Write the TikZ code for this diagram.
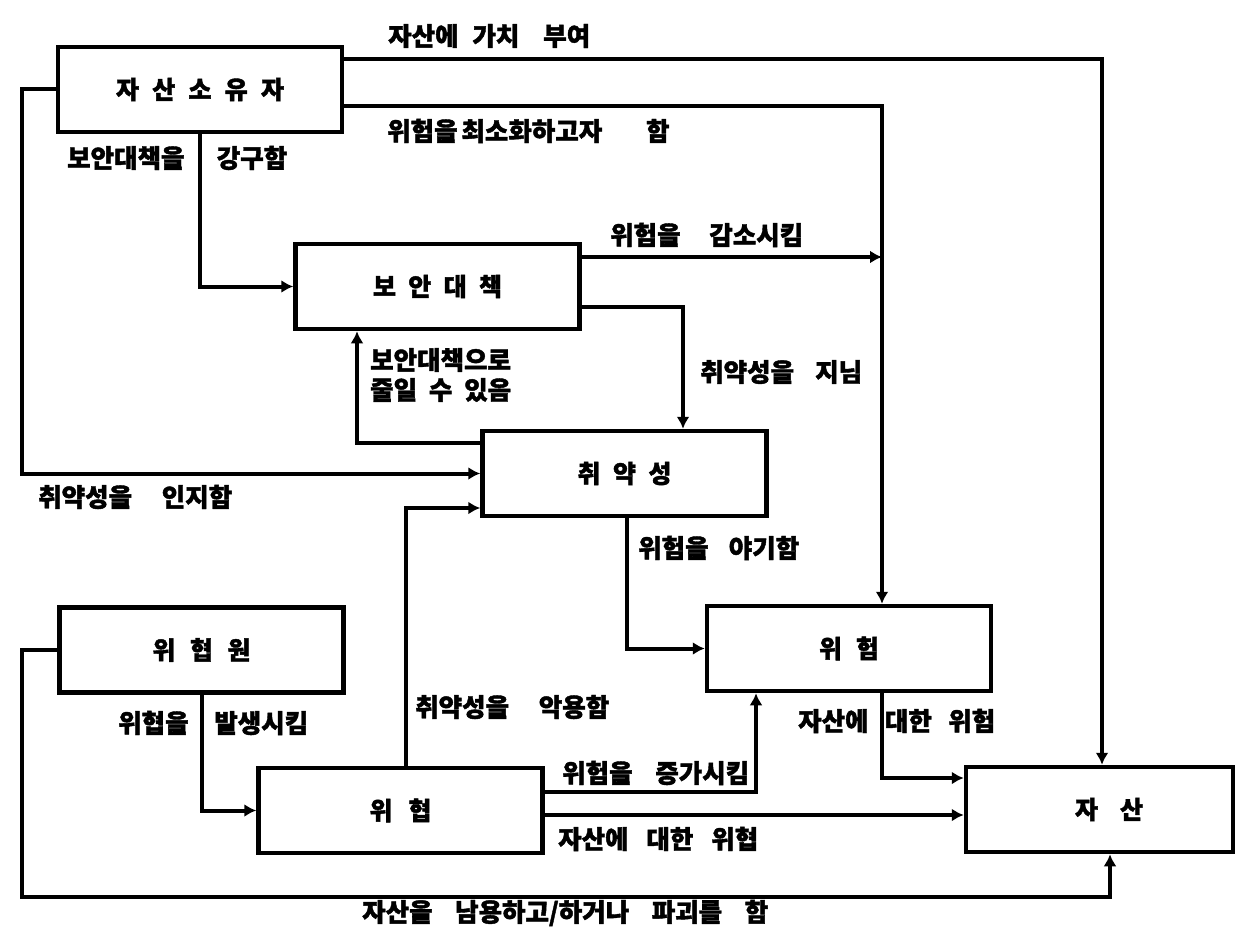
\documentclass[tikz,border=0pt]{standalone}
\usepackage{fontspec}
\usetikzlibrary{arrows.meta}
\newfontfamily\krf{Noto Sans CJK KR}[FakeBold=1.6]
\newcommand\sq[2]{\makebox[#1pt][s]{#2}}
\begin{document}
\begin{tikzpicture}[x=1pt,y=-1pt,
  box/.style={draw, line width=4.5pt, minimum width=284pt, minimum height=85pt, inner sep=0pt,
    font=\krf\bfseries\fontsize{25}{27}\selectfont},
  lab/.style={anchor=west, inner sep=0pt, font=\krf\bfseries\fontsize{25.5}{27}\selectfont},
  conn/.style={line width=4pt, -{Latex[length=12pt,width=13pt]}}]
\useasboundingbox (0,0) rectangle (1236,928);
\fill[white] (0,0) rectangle (1236,928);

% boxes
\node[box] (own)   at (200,89.5)   {\sq{168}{자 산 소 유 자}};
\node[box] (cm)    at (437.5,286.5) {\sq{129}{보 안 대 책}};
\node[box] (vul)   at (624.5,473.5) {\sq{94}{취 약 성}};
\node[box] (risk)  at (849,648.5)  {\sq{60}{위 험}};
\node[box] (ta)    at (201.5,650)  {\sq{98}{위 협 원}};
\node[box] (thr)   at (400.5,810.5) {\sq{62}{위 협}};
\node[box, minimum width=267pt] (asset) at (1099.5,809.5) {\hspace{19pt}\sq{68}{자 산}};

\coordinate (jr) at (882,257);

% connectors
\draw[conn] (own.east |- 0,59) -| (asset.north -| 1102,0);
\draw[conn] (own.east |- 0,106) -| (risk.north -| 882,0);
\draw[conn] (own.south) |- (cm.west);
\draw[conn] (own.west) -- (own.west -| 22,0) |- (vul.west);
\draw[conn] (cm.east |- jr) -- (jr);
\draw[conn] (cm.east |- 0,307) -| (vul.north -| 683,0);
\draw[conn] (vul.west |- 0,443) -| (cm.south -| 357,0);
\draw[conn] (vul.south -| 627,0) |- (risk.west);
\draw[conn] (ta.south) |- (thr.west);
\draw[conn] (thr.north -| 406,0) |- (vul.west |- 0,508);
\draw[conn] (thr.east |- 0,792) -| (risk.south -| 756,0);
\draw[conn] (thr.east |- 0,815) -- (asset.west |- 0,815);
\draw[conn] (risk.south -| 882,0) |- (asset.west |- 0,778);
\draw[conn] (ta.west) -- (ta.west -| 22,0) -- (22,897) -| (asset.south -| 1110,0);

% labels
\node[lab] (l1)  at (388,36)  {\sq{202}{자산에 가치\hspace{10pt} 부여}};
\node[lab] (l2)  at (387,131) {\sq{281}{위험을 최소화하고자\hspace{40pt} 함}};
\node[lab] (l3)  at (67,158)  {\sq{220}{보안대책을 강구함}};
\node[lab] (l4)  at (610,235) {\sq{193}{위험을 감소시킴}};
\node[lab] (l5)  at (700,372) {\sq{162}{취약성을 지님}};
\node[lab] (l6)  at (370,360) {\sq{155}{보안대책으로}};
\node[lab] (l7)  at (370,390) {\sq{141}{줄일 수 있음}};
\node[lab] (l8)  at (38,497)  {\sq{194}{취약성을 인지함}};
\node[lab] (l9)  at (638,548) {\sq{161}{위험을 야기함}};
\node[lab] (l10) at (118,723) {\sq{190}{위협을 발생시킴}};
\node[lab] (l11) at (415,707) {\sq{194}{취약성을 악용함}};
\node[lab] (l12) at (562,773) {\sq{187}{위험을 증가시킴}};
\node[lab] (l13) at (558,839) {\sq{200}{자산에 대한 위협}};
\node[lab] (l14) at (798,721) {\sq{197}{자산에 대한 위험}};
\node[lab] (l15) at (362,913) {\sq{406}{자산을 남용하고/하거나 파괴를 함}};
\end{tikzpicture}
\end{document}
